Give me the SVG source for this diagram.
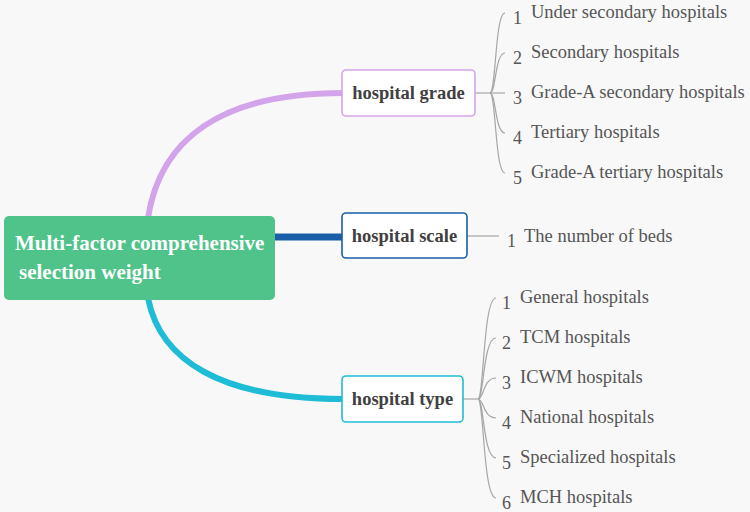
<svg xmlns="http://www.w3.org/2000/svg" width="750" height="512" viewBox="0 0 750 512">
<style>
.bg{fill:#f8f8f8}
.main{fill:none;stroke-linecap:butt}
.sub{fill:none;stroke:#a6a6a6;stroke-width:1.2}
.box{fill:#ffffff;stroke-width:1.6}
.bt{font-family:"Liberation Serif",serif;font-weight:bold;font-size:18.5px;fill:#404040;text-anchor:middle}
.rt{font-family:"Liberation Serif",serif;font-weight:bold;font-size:21px;fill:#ffffff}
.lb{font-family:"Liberation Serif",serif;font-size:18.5px;fill:#555555}
.nm{font-family:"Liberation Serif",serif;font-size:18px;fill:#555555}
</style>
<rect class="bg" x="0" y="0" width="750" height="512"/>
<g id="connectors">
<path class="main" d="M148,218 C160,140 220,93 343,93" stroke="#d4a4ea" stroke-width="6"/>
<path class="main" d="M274,237 L343,237" stroke="#1a5ea8" stroke-width="7"/>
<path class="main" d="M148,298 C160,360 220,399 343,399" stroke="#1ebcd6" stroke-width="6"/>
<path class="sub" d="M475,93 L490,93"/>
<path class="sub" d="M490,93 C496,93 495,13 505,13"/>
<path class="sub" d="M490,93 C496,93 495,53 505,53"/>
<path class="sub" d="M490,93 L505,93"/>
<path class="sub" d="M490,93 C496,93 495,133 505,133"/>
<path class="sub" d="M490,93 C496,93 495,173 505,173"/>
<path class="sub" d="M467,236 L499,236"/>
<path class="sub" d="M463,399 L478,399"/>
<path class="sub" d="M478,399 C484,399 483,298 496,298"/>
<path class="sub" d="M478,399 C484,399 483,338 496,338"/>
<path class="sub" d="M478,399 C484,399 483,378 496,378"/>
<path class="sub" d="M478,399 C484,399 483,418 496,418"/>
<path class="sub" d="M478,399 C484,399 483,458 496,458"/>
<path class="sub" d="M478,399 C484,399 483,498 496,498"/>
</g>
<g id="root">
<rect x="4" y="216" width="271" height="84" rx="5" fill="#4fc38a"/>
<text class="rt" x="15" y="250">Multi-factor comprehensive</text>
<text class="rt" x="19" y="279">selection weight</text>
</g>
<g id="grade">
<rect class="box" x="342" y="70" width="133" height="46" rx="4" stroke="#d4a4ea"/>
<text class="bt" x="408.5" y="99">hospital grade</text>
</g>
<g id="scale">
<rect class="box" x="342" y="213" width="125" height="45" rx="4" stroke="#1a5ea8"/>
<text class="bt" x="404.5" y="242">hospital scale</text>
</g>
<g id="type">
<rect class="box" x="342" y="376" width="121" height="46" rx="4" stroke="#1ebcd6"/>
<text class="bt" x="402.5" y="405">hospital type</text>
</g>
<g id="grade-children">
<text class="nm" x="513" y="24">1</text><text class="lb" x="531" y="18">Under secondary hospitals</text>
<text class="nm" x="513" y="64">2</text><text class="lb" x="531" y="58">Secondary hospitals</text>
<text class="nm" x="513" y="104">3</text><text class="lb" x="531" y="98">Grade-A secondary hospitals</text>
<text class="nm" x="513" y="144">4</text><text class="lb" x="531" y="138">Tertiary hospitals</text>
<text class="nm" x="513" y="184">5</text><text class="lb" x="531" y="178">Grade-A tertiary hospitals</text>
</g>
<g id="scale-children">
<text class="nm" x="507" y="247">1</text><text class="lb" x="524" y="242">The number of beds</text>
</g>
<g id="type-children">
<text class="nm" x="502" y="309">1</text><text class="lb" x="520" y="303">General hospitals</text>
<text class="nm" x="502" y="349">2</text><text class="lb" x="520" y="343">TCM hospitals</text>
<text class="nm" x="502" y="389">3</text><text class="lb" x="520" y="383">ICWM hospitals</text>
<text class="nm" x="502" y="429">4</text><text class="lb" x="520" y="423">National hospitals</text>
<text class="nm" x="502" y="469">5</text><text class="lb" x="520" y="463">Specialized hospitals</text>
<text class="nm" x="502" y="509">6</text><text class="lb" x="520" y="503">MCH hospitals</text>
</g>
</svg>
